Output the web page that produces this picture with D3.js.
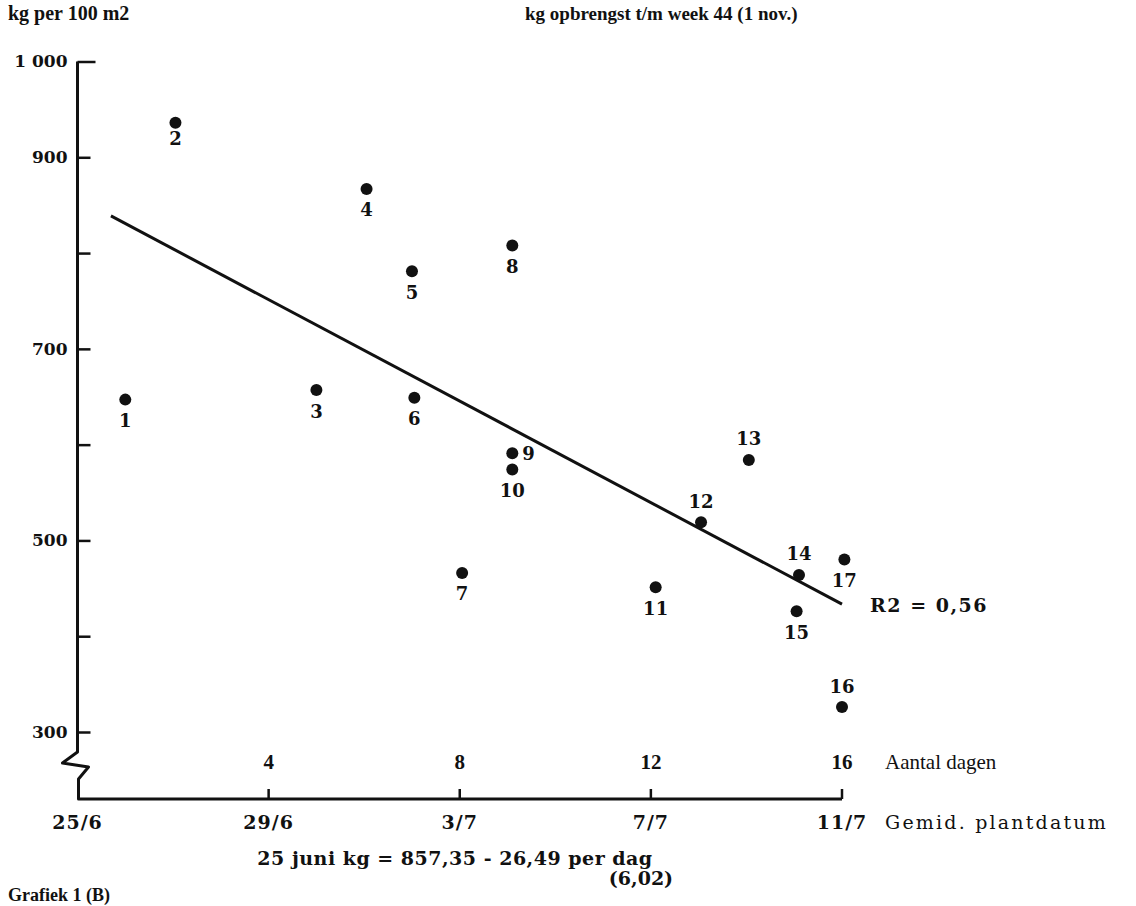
<!DOCTYPE html>
<html>
<head>
<meta charset="utf-8">
<script src="https://cdn.jsdelivr.net/npm/d3@7"></script>
<style>
  body { margin: 0; background: #fff; }
  svg { display: block; }
  .slab { font-family: "DejaVu Serif", serif; fill: #111; }
  .cond { font-family: "Liberation Serif", serif; fill: #111; }
</style>
</head>
<body>
<div id="chart-area"></div>
<script>
// values
var pointIds = ['1','2','3','4','5','6','7','8','9','10','11','12','13','14','15','16','17'];
var days = [1, 2.05, 5, 6.05, 7, 7.05, 8.05, 9.1, 9.1, 9.1, 12.1, 13.05, 14.05, 15.1, 15.05, 16, 16.05];
var yields = [647, 936, 657, 867, 781, 649, 466, 808, 591, 574, 451, 519, 584, 464, 426, 326, 480];

var yTicks = [300, 400, 500, 600, 700, 800, 900, 1000];
var yTickLabels = ['300', '', '500', '', '700', '', '900', '1 000'];
var dayTicks = [4, 8, 12, 16];
var dateTicks = [0, 4, 8, 12, 16];
var dateLabels = ['25/6', '29/6', '3/7', '7/7', '11/7'];

var fitIntercept = 857.35;
var fitSlope = -26.49;
var fitRange = [0.7, 16];

var width = 1136, height = 906;

var svg = d3.select('#chart-area').append('svg')
    .attr('width', width)
    .attr('height', height);

var x = d3.scaleLinear().domain([0, 16]).range([77.5, 842]);
var y = d3.scaleLinear().domain([300, 1000]).range([732, 61.5]);
var axisY = y(300) + 67;   // broken axis: x axis drawn below the break

// header texts
svg.append('text').attr('class', 'cond').attr('x', 8).attr('y', 20)
    .attr('font-size', '20px').attr('font-weight', 'bold').text('kg per 100 m2');
svg.append('text').attr('class', 'cond').attr('x', 525).attr('y', 20)
    .attr('font-size', '19px').attr('font-weight', 'bold').text('kg opbrengst t/m week 44 (1 nov.)');

// y axis, ticks pointing inward
var yAxisCall = d3.axisLeft(y)
    .tickValues(yTicks)
    .tickSizeInner(-13)
    .tickSizeOuter(0)
    .tickPadding(24)
    .tickFormat((d, i) => yTickLabels[i]);

var yAxisGroup = svg.append('g')
    .attr('transform', `translate(${x(0)}, 0)`)
    .call(yAxisCall);
yAxisGroup.select('.domain').remove();
yAxisGroup.selectAll('line').attr('stroke', '#111').attr('stroke-width', 2.5);
yAxisGroup.selectAll('text')
    .attr('class', 'slab')
    .attr('font-size', '17px')
    .attr('font-weight', 'bold')
    .attr('text-anchor', 'end')
    .attr('dx', '14px');

// top corner tick a little longer
yAxisGroup.selectAll('.tick').filter(d => d === 1000).select('line').attr('x2', 18);

// axis line with the zigzag break and the x axis
var x0 = x(0), yTop = y(1000), yb = y(300) + 20;
var axisPath = d3.path();
axisPath.moveTo(x0, yTop);
axisPath.lineTo(x0, yb);
axisPath.lineTo(x0 - 15, yb + 11);
axisPath.lineTo(x0 + 11, yb + 15);
axisPath.lineTo(x0 + 1, yb + 27);
axisPath.lineTo(x0 + 1, axisY);
axisPath.lineTo(x(16), axisY);
svg.append('path')
    .attr('d', axisPath.toString())
    .attr('fill', 'none')
    .attr('stroke', '#111')
    .attr('stroke-width', 3)
    .attr('stroke-linejoin', 'round');

// x axis ticks (upward)
svg.selectAll('.xtick').data(dayTicks).enter().append('line')
    .attr('class', 'xtick')
    .attr('x1', d => x(d)).attr('x2', d => x(d))
    .attr('y1', axisY).attr('y2', axisY - 10)
    .attr('stroke', '#111').attr('stroke-width', 2.5);

// day numbers above the axis
svg.selectAll('.daylab').data(dayTicks).enter().append('text')
    .attr('class', 'cond daylab')
    .attr('x', d => x(d)).attr('y', axisY - 30)
    .attr('text-anchor', 'middle')
    .attr('font-size', '21px').attr('font-weight', 'bold')
    .text(d => d);
svg.append('text').attr('class', 'cond')
    .attr('x', 885).attr('y', axisY - 30)
    .attr('font-size', '21px')
    .text('Aantal dagen');

// dates below the axis
svg.selectAll('.datelab').data(dateTicks).enter().append('text')
    .attr('class', 'slab datelab')
    .attr('x', d => x(d)).attr('y', axisY + 30)
    .attr('text-anchor', 'middle')
    .attr('font-size', '19px').attr('font-weight', 'bold')
    .attr('letter-spacing', '1px')
    .text((d, i) => dateLabels[i]);
svg.append('text').attr('class', 'slab')
    .attr('x', 885).attr('y', axisY + 30)
    .attr('font-size', '19px')
    .attr('letter-spacing', '2.2px')
    .text('Gemid. plantdatum');

// regression line
var fitLine = d3.line().x(d => x(d)).y(d => y(fitIntercept + fitSlope * d));
svg.append('path')
    .attr('d', fitLine(fitRange))
    .attr('fill', 'none')
    .attr('stroke', '#111')
    .attr('stroke-width', 3);

svg.append('text').attr('class', 'slab')
    .attr('x', x(fitRange[1]) + 28).attr('y', y(fitIntercept + fitSlope * fitRange[1]) + 8)
    .attr('font-size', '19px')
    .attr('font-weight', 'bold')
    .attr('letter-spacing', '1.5px')
    .text('R2 = 0,56');

// points
var points = pointIds.map((id, i) => ({ id: id, day: days[i], kg: yields[i] }));

svg.selectAll('circle').data(points).enter().append('circle')
    .attr('cx', d => x(d.day))
    .attr('cy', d => y(d.kg))
    .attr('r', 6)
    .attr('fill', '#111');

var labelSide = { '2': 'tight', '9': 'right', '12': 'above', '13': 'above', '14': 'above', '16': 'above' };

svg.selectAll('.plab').data(points).enter().append('text')
    .attr('class', 'slab plab')
    .attr('font-size', '18px')
    .attr('font-weight', 'bold')
    .attr('text-anchor', d => labelSide[d.id] === 'right' ? 'start' : 'middle')
    .attr('dy', '0.36em')
    .attr('x', d => labelSide[d.id] === 'right' ? x(d.day) + 10 : x(d.day))
    .attr('y', d => {
        var side = labelSide[d.id];
        if (side === 'right') return y(d.kg);
        if (side === 'above') return y(d.kg) - 21;
        if (side === 'tight') return y(d.kg) + 16;
        return y(d.kg) + 21;
    })
    .text(d => d.id);

// equation
svg.append('text').attr('class', 'slab')
    .attr('x', 455).attr('y', 865)
    .attr('text-anchor', 'middle')
    .attr('font-size', '19px')
    .attr('font-weight', 'bold')
    .attr('letter-spacing', '0.5px')
    .text('25 juni kg = 857,35 - 26,49 per dag');
svg.append('text').attr('class', 'slab')
    .attr('x', 641).attr('y', 885)
    .attr('text-anchor', 'middle')
    .attr('font-size', '19px')
    .attr('font-weight', 'bold')
    .text('(6,02)');

// caption at the bottom edge
svg.append('text').attr('class', 'cond')
    .attr('x', 8).attr('y', 901)
    .attr('font-size', '18px').attr('font-weight', 'bold')
    .text('Grafiek 1 (B)');
</script>
</body>
</html>
